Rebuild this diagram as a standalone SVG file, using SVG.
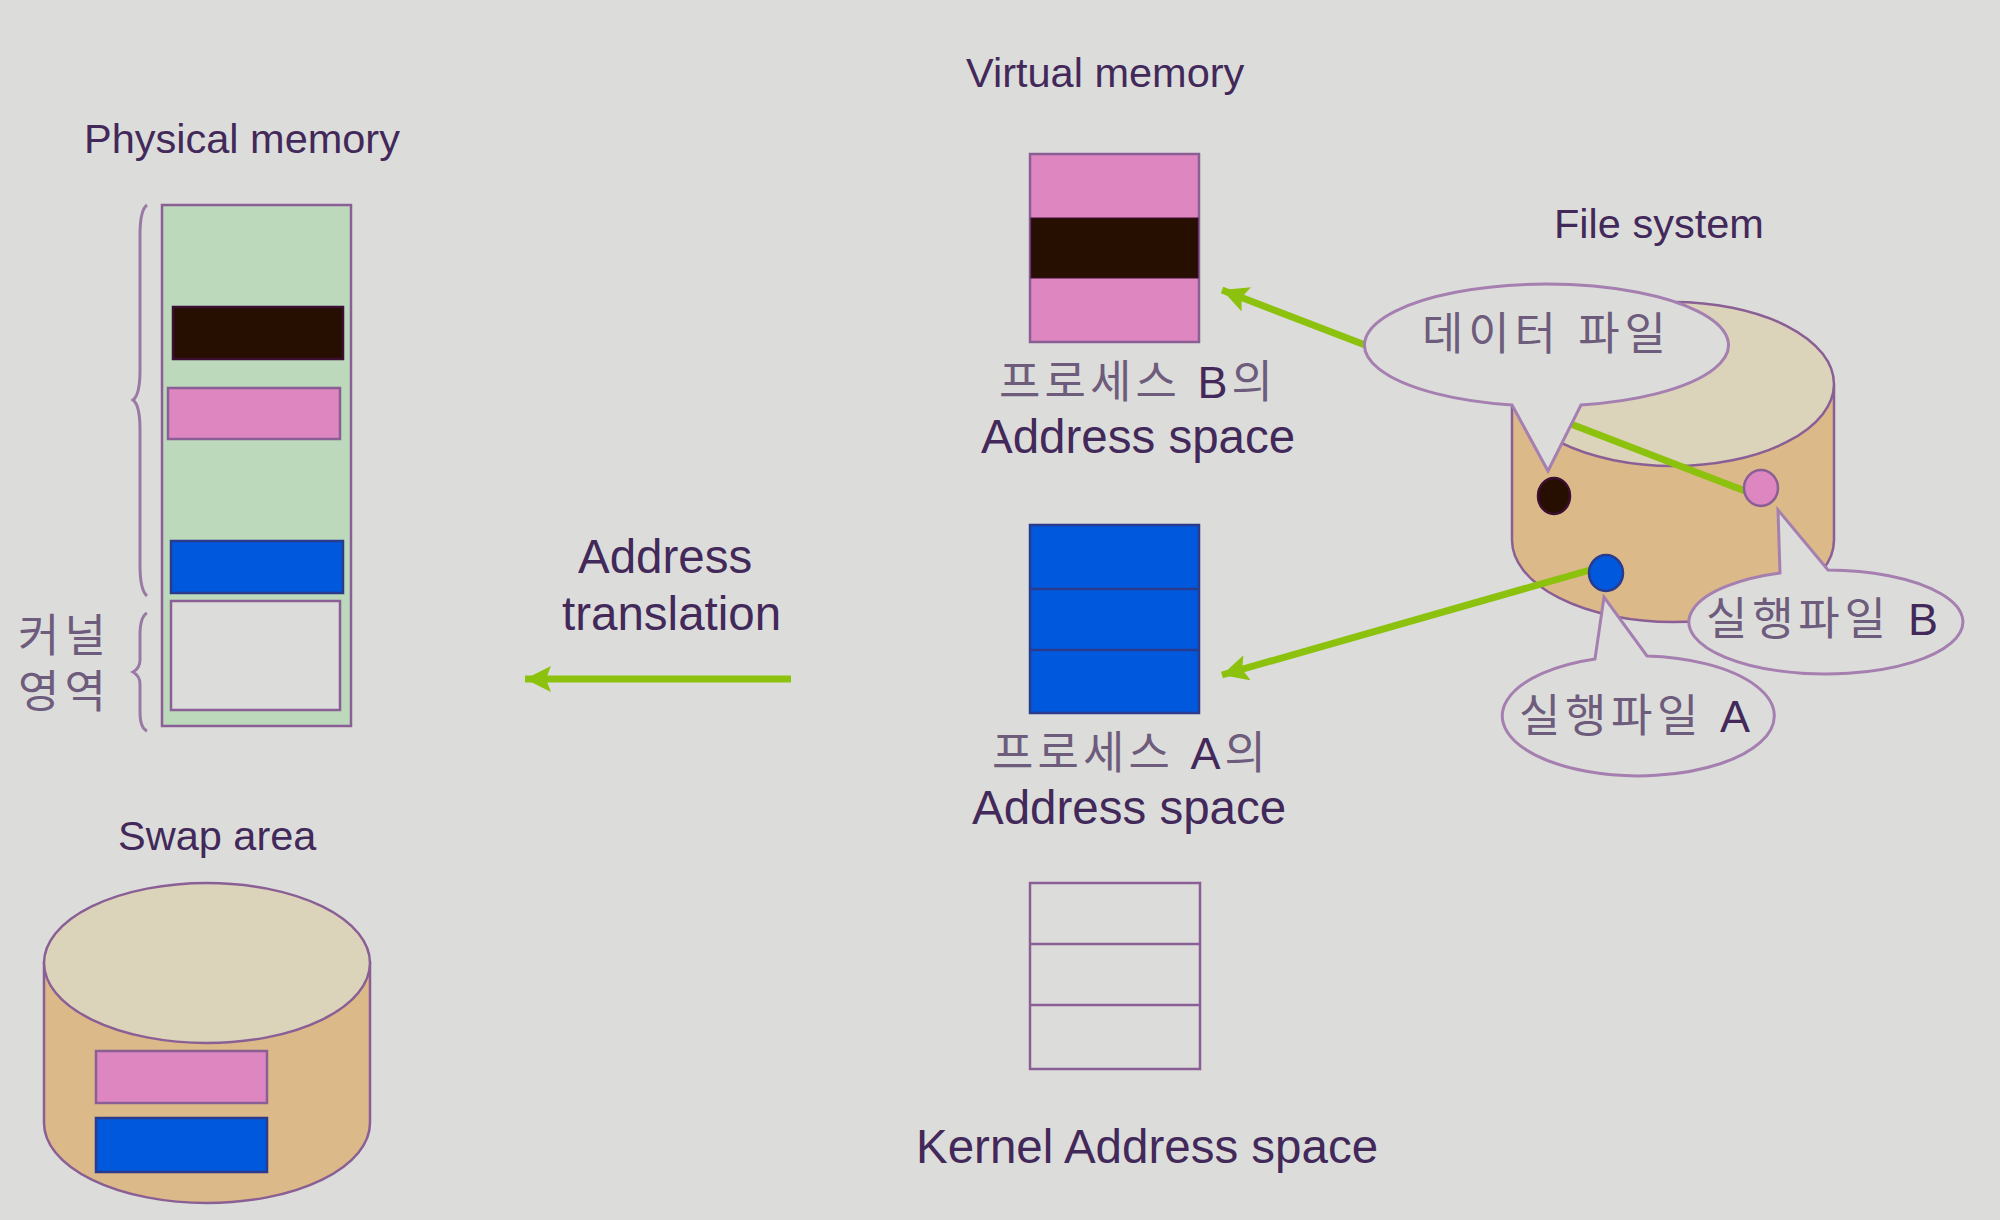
<svg xmlns="http://www.w3.org/2000/svg" width="2000" height="1220" viewBox="0 0 2000 1220">
<style>
.s{stroke:#8a5f95;stroke-width:2.5}
.pink{fill:#dd86c0}
.blue{fill:#0059dc;stroke:#2a3a8c}
.black{fill:#260f00;stroke:#3a0f30}
.none{fill:#dcdddb}
.green{fill:#bcd9bc}
.body{fill:#dcb988}
.top{fill:#dcd3bb}
.bubble{fill:#dcdddb;stroke:#a57fb0;stroke-width:3}
.brace{fill:none;stroke:#9a7aa5;stroke-width:3}
.en{font-family:"Liberation Sans",Arial,sans-serif;fill:#43295a}
.en41{font-size:41.5px}
.en47{font-size:47.5px}
.ko{font-family:"Liberation Sans","Noto Sans CJK KR",sans-serif;fill:#6e5c7c;font-size:45px;font-weight:400}
.link{fill:none;stroke:#8cc20e;stroke-width:7}
</style>
<defs>
<marker id="head" markerUnits="userSpaceOnUse" markerWidth="30" markerHeight="30" refX="26" refY="13" orient="auto">
<path d="M26 13L0 0L5 13L0 26Z" fill="#8cc20e"/>
</marker>
</defs>
<rect width="2000" height="1220" fill="#dcdddb"/>

<g id="physical-memory">
<text class="en en41" x="84" y="153">Physical memory</text>
<rect class="s green" x="162" y="205" width="189" height="521"/>
<rect class="s black" x="173" y="307" width="170" height="52"/>
<rect class="s pink" x="168" y="388" width="172" height="51"/>
<rect class="s blue" x="171" y="541" width="172" height="52"/>
<rect class="s none" x="171" y="601" width="169" height="109"/>
<path class="brace" d="M147 205Q140 210 140 235V370Q140 395 133 400Q140 405 140 430V565Q140 590 147 596"/>
<path class="brace" d="M147 613Q140 617 140 635V660Q140 668 133 672Q140 676 140 684V712Q140 728 147 731"/>
<text class="ko" x="18" y="652" textLength="88" lengthAdjust="spacing">커널</text>
<text class="ko" x="18" y="708" textLength="88" lengthAdjust="spacing">영역</text>
</g>

<g id="swap-area">
<text class="en en41" x="118" y="850">Swap area</text>
<path class="s body" d="M44 963V1123A163 80 0 0 0 370 1123V963Z"/>
<ellipse class="s top" cx="207" cy="963" rx="163" ry="80"/>
<rect class="s pink" x="96" y="1051" width="171" height="52"/>
<rect class="s blue" x="96" y="1118" width="171" height="54"/>
</g>

<g id="process-b">
<text class="en en41" x="966" y="87">Virtual memory</text>
<rect class="s pink" x="1030" y="154" width="169" height="188"/>
<rect class="black" x="1031" y="218" width="167" height="60"/>
<text class="ko" x="999" y="398" textLength="274" lengthAdjust="spacing">프로세스 <tspan fill="#43295a">B</tspan>의</text>
<text class="en en47" x="981" y="453">Address space</text>
</g>

<g id="process-a">
<rect class="s blue" x="1030" y="525" width="169" height="188"/>
<path d="M1030 589H1199M1030 650H1199" stroke="#2a3a8c" stroke-width="2.5"/>
<text class="ko" x="992" y="769" textLength="274" lengthAdjust="spacing">프로세스 <tspan fill="#43295a">A</tspan>의</text>
<text class="en en47" x="972" y="824">Address space</text>
</g>

<g id="kernel-space">
<rect class="s none" x="1030" y="883" width="170" height="186"/>
<path class="s" d="M1030 944H1200M1030 1005H1200"/>
<text class="en en47" x="916" y="1163">Kernel Address space</text>
</g>

<g id="address-translation">
<text class="en en47" x="578" y="573">Address</text>
<text class="en en47" x="562" y="630">translation</text>
</g>

<g id="file-system">
<text class="en en41" x="1554" y="238">File system</text>
<path class="s body" d="M1512 386V540A161 82 0 0 0 1834 540V386Z"/>
<ellipse class="s top" cx="1673" cy="384" rx="161" ry="82"/>
</g>

<g id="connectors">
<path class="link" d="M1745 491L1222 290" marker-end="url(#head)"/>
<path class="link" d="M1590 570L1222 675" marker-end="url(#head)"/>
<path class="link" d="M791 679H525" marker-end="url(#head)"/>
</g>

<g id="file-dots">
<ellipse class="s black" cx="1554" cy="496" rx="16" ry="18"/>
<ellipse class="s pink" cx="1761" cy="488" rx="17" ry="18"/>
<ellipse class="s blue" cx="1606" cy="573" rx="17" ry="18"/>
</g>

<g id="callout-data">
<path class="bubble" d="M1581 405A182 61 0 1 0 1512 405L1548 471Z"/>
<text class="ko" x="1422" y="350" textLength="244" lengthAdjust="spacing">데이터 파일</text>
</g>
<g id="callout-b">
<path class="bubble" d="M1828 570A137 52 0 1 1 1780 573L1778 510Z"/>
<text class="ko" x="1706" y="635" textLength="232" lengthAdjust="spacing">실행파일 <tspan fill="#43295a">B</tspan></text>
</g>
<g id="callout-a">
<path class="bubble" d="M1647 656A136 60 0 1 1 1595 659L1604 597Z"/>
<text class="ko" x="1519" y="732" textLength="231" lengthAdjust="spacing">실행파일 <tspan fill="#43295a">A</tspan></text>
</g>
</svg>
